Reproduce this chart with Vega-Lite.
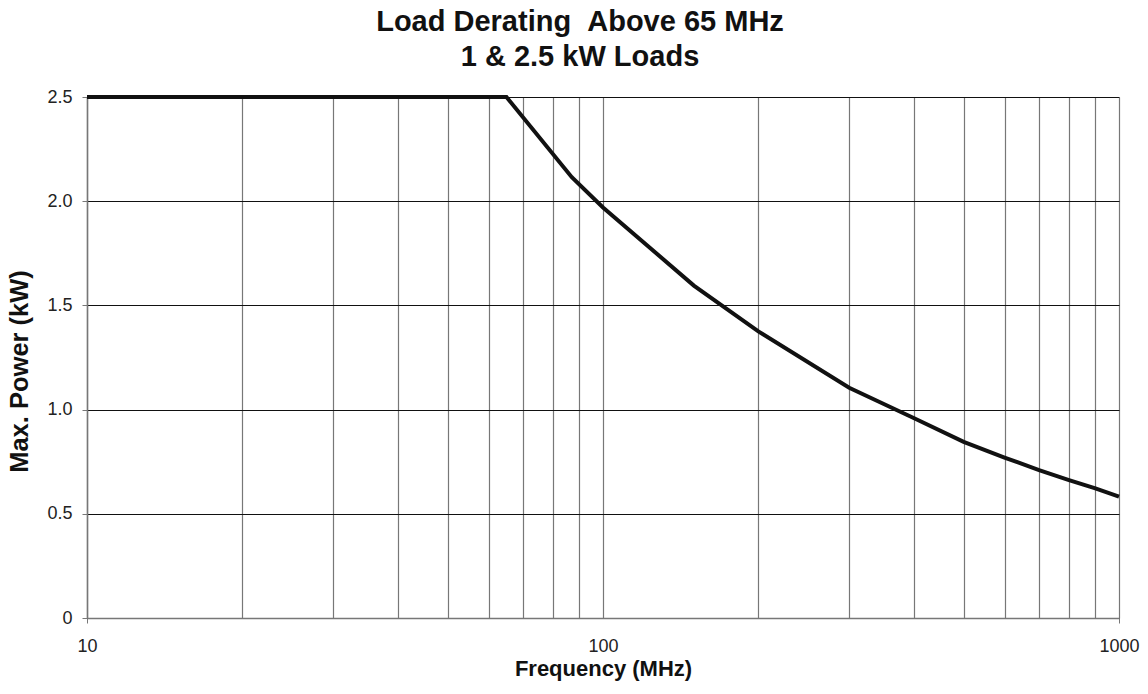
{
  "$schema": "https://vega.github.io/schema/vega-lite/v6.json",
  "autosize": "none",
  "padding": {"left": 87, "top": 97, "right": 29, "bottom": 76},
  "width": 1032,
  "height": 521,
  "background": "white",
  "config": {
    "font": "Liberation Sans",
    "view": {"stroke": null}
  },
  "title": {
    "text": ["Load Derating \u00a0Above 65 MHz", "1 & 2.5 kW Loads"],
    "fontSize": 29,
    "fontWeight": "bold",
    "lineHeight": 35,
    "color": "#111",
    "anchor": "middle",
    "dx": -23,
    "offset": 16
  },
  "data": {
    "values": [
      {"freq": 10, "power": 2.5},
      {"freq": 65, "power": 2.5},
      {"freq": 87, "power": 2.115},
      {"freq": 100, "power": 1.97},
      {"freq": 150, "power": 1.595},
      {"freq": 200, "power": 1.375},
      {"freq": 300, "power": 1.105},
      {"freq": 400, "power": 0.96},
      {"freq": 500, "power": 0.845},
      {"freq": 600, "power": 0.77},
      {"freq": 700, "power": 0.71},
      {"freq": 800, "power": 0.662},
      {"freq": 900, "power": 0.622},
      {"freq": 1000, "power": 0.582}
    ]
  },
  "mark": {"type": "line", "color": "#111", "strokeWidth": 4, "clip": false, "strokeJoin": "miter"},
  "encoding": {
    "x": {
      "field": "freq",
      "type": "quantitative",
      "scale": {"type": "log", "domain": [10, 1000], "nice": false},
      "axis": {
        "title": "Frequency (MHz)",
        "titleFontSize": 22,
        "titleFontWeight": "bold",
        "titleColor": "#111",
        "titlePadding": 3,
        "values": [10, 20, 30, 40, 50, 60, 70, 80, 90, 100, 200, 300, 400, 500, 600, 700, 800, 900, 1000],
        "labelExpr": "(datum.value == 10 || datum.value == 100 || datum.value == 1000) ? datum.value : ''",
        "labelFontSize": 18,
        "labelColor": "#222",
        "labelPadding": 14,
        "labelFlush": false,
        "tickSize": 5,
        "tickColor": "#777",
        "tickOpacity": {"condition": {"test": "datum.value == 10 || datum.value == 1000", "value": 1}, "value": 0},
        "domainColor": "#777",
        "domainWidth": 1.5,
        "grid": true,
        "gridColor": "#777",
        "gridWidth": 1.2
      }
    },
    "y": {
      "field": "power",
      "type": "quantitative",
      "scale": {"domain": [0, 2.5], "nice": false},
      "axis": {
        "title": "Max. Power (kW)",
        "titleFontSize": 25.5,
        "titleFontWeight": "bold",
        "titleColor": "#111",
        "titleX": -60,
        "titleY": 274,
        "titleAngle": 270,
        "titleAlign": "center",
        "titleBaseline": "alphabetic",
        "values": [0, 0.5, 1, 1.5, 2, 2.5],
        "labelExpr": "datum.value == 0 ? '0' : format(datum.value, '.1f')",
        "labelFontSize": 18,
        "labelColor": "#222",
        "labelPadding": 10,
        "tickSize": 5,
        "tickColor": "#777",
        "domainColor": "#777",
        "domainWidth": 1.5,
        "grid": true,
        "gridColor": "#111",
        "gridWidth": 1
      }
    }
  }
}
